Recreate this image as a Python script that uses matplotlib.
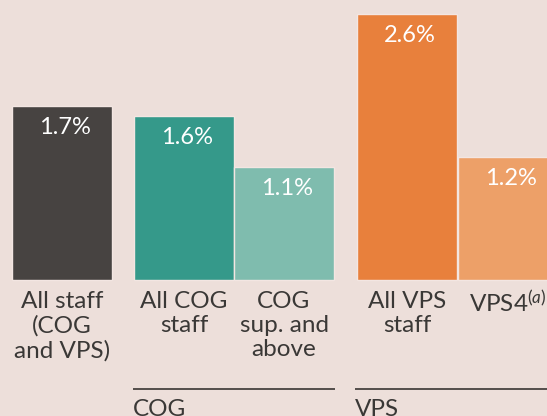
import matplotlib
matplotlib.use("Agg")
import matplotlib.pyplot as plt

plt.rcParams['font.family'] = ['Lato', 'DejaVu Sans']
plt.rcParams['mathtext.fontset'] = 'custom'
plt.rcParams['mathtext.rm'] = 'Lato'
plt.rcParams['mathtext.it'] = 'Lato:italic'

# Data
categories = ["All staff\n(COG\nand VPS)", "All COG\nstaff", "COG\nsup. and\nabove",
              "All VPS\nstaff", "VPS4$^{\\mathit{(a)}}$"]
values = [1.7, 1.6, 1.1, 2.6, 1.2]
value_labels = ["1.7%", "1.6%", "1.1%", "2.6%", "1.2%"]
groups = ["COG", "VPS"]

# Layout
positions = [0, 1.22, 2.22, 3.45, 4.46]
colors = ["#474341", "#35998a", "#7fbcae", "#e8803c", "#eda068"]
bg = "#eddfda"
text_col = "#3a3836"
group_spans = [(1.22 - 0.51, 2.22 + 0.51), (3.45 - 0.52, 5.0)]

fig = plt.figure(figsize=(5.47, 4.16), dpi=100, facecolor=bg)
ax = fig.add_axes([0, 0, 1, 1])
ax.set_facecolor(bg)
ax.set_xlim(-0.62, 4.85)
px = 102.3
ax.set_ylim(-136 / px, 280 / px)
ax.axis('off')

ax.bar(positions, values, width=1.0, color=colors, edgecolor="#f3e6e2", linewidth=1.0)

for x, v, lab in zip(positions, values, value_labels):
    ax.text(x + 0.03, v - 28 / px, lab, ha='center', va='baseline', color='white', fontsize=17)

for x, lab in zip(positions, categories):
    ax.text(x, -11 / px, lab, ha='center', va='top', color=text_col, fontsize=17.5,
            linespacing=1.18)

for (x0, x1), g in zip(group_spans, groups):
    ax.plot([x0, x1], [-109 / px, -109 / px], color="#3a3533", lw=1.2, solid_capstyle='butt')
    ax.text(x0, -136.5 / px, g, ha='left', va='baseline', color=text_col, fontsize=17.5)

fig.savefig("out.png", dpi=100, facecolor=bg)
